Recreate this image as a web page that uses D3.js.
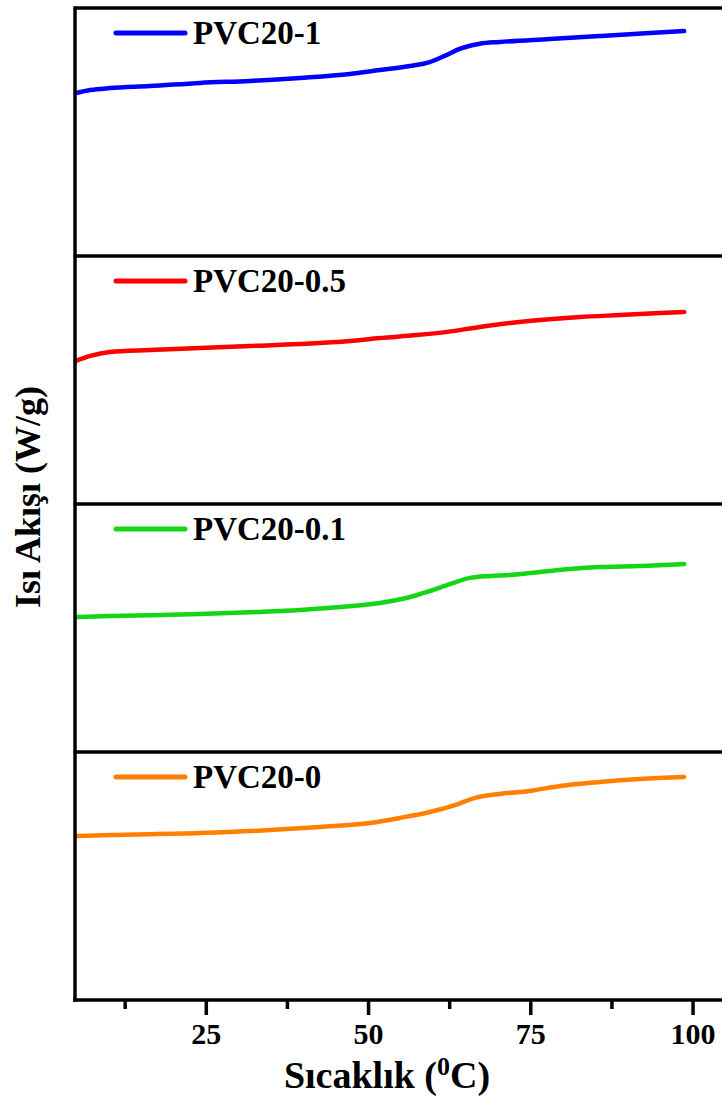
<!DOCTYPE html>
<html>
<head>
<meta charset="utf-8">
<script src="https://cdn.jsdelivr.net/npm/d3@7"></script>
<style>
  body { margin: 0; background: #fff; }
  svg { display: block; }
  text { font-family: "Liberation Serif", "Times New Roman", serif; font-weight: bold; }
</style>
</head>
<body>
<svg id="chart" width="722" height="1098"></svg>
<script>
// temperature (°C) shared by the sampled points of each curve
const series = ["PVC20-1", "PVC20-0.5", "PVC20-0.1", "PVC20-0"]
const colors = ["#0000ff", "#ff0000", "#14d614", "#ff8000"]

// heat flow, arbitrary offset units
const tBlue = [5, 7.2, 10.2, 16.4, 24.1, 31.8, 39.5, 47.2, 51.8, 56.5, 59.5, 61.9, 64.2, 65.7, 67.2, 70.3, 78, 85.7, 93.4, 98.7]
const vBlue = [6.57, 6.69, 6.77, 6.85, 6.98, 7.06, 7.18, 7.34, 7.5, 7.66, 7.82, 8.08, 8.36, 8.48, 8.56, 8.63, 8.75, 8.87, 8.99, 9.07]

const tRed = [5, 7.2, 10.2, 16.4, 24.1, 31.8, 39.5, 47.2, 51.8, 57.5, 62.2, 67.2, 71.9, 76.5, 82.7, 88.8, 95, 98.7]
const vRed = [5.77, 5.97, 6.13, 6.21, 6.29, 6.37, 6.45, 6.57, 6.69, 6.81, 6.94, 7.14, 7.3, 7.42, 7.54, 7.62, 7.7, 7.74]

const tGreen = [5, 10.2, 24.1, 33.4, 39.5, 45.7, 51.8, 56.5, 59.5, 62.6, 65.7, 68.8, 71.9, 76.5, 81.1, 85.7, 91.9, 98.7]
const vGreen = [5.44, 5.48, 5.56, 5.65, 5.73, 5.85, 6.01, 6.25, 6.49, 6.77, 7.02, 7.1, 7.14, 7.26, 7.38, 7.46, 7.5, 7.58]

const tOrange = [5, 10.2, 24.1, 34.9, 42.6, 50.3, 54.9, 59.5, 63.4, 66.5, 70.3, 74.95, 79.6, 85.7, 91.9, 98.7]
const vOrange = [6.61, 6.65, 6.73, 6.85, 6.98, 7.14, 7.34, 7.58, 7.86, 8.15, 8.31, 8.43, 8.63, 8.79, 8.91, 8.99]

const temps = [tBlue, tRed, tGreen, tOrange]
const values = [vBlue, vRed, vGreen, vOrange]

const majorTicks = [25, 50, 75, 100]
const minorTicks = [12.5, 37.5, 62.5, 87.5]

const svg = d3.select("#chart")
const plotLeft = 75, plotTop = 8, plotBottom = 1000

const x = d3.scaleLinear().domain([5, 105]).range([76, 725])
const band = d3.scaleBand().domain(series).range([plotTop, plotBottom])

// curves
series.forEach((name, i) => {
    const y = d3.scaleLinear().domain([0, 10]).range([band(name) + band.bandwidth(), band(name)])
    const pts = temps[i].map((t, j) => [t, values[i][j]])
    const line = d3.line().x(d => x(d[0])).y(d => y(d[1])).curve(d3.curveMonotoneX)

    svg.append("path")
        .datum(pts)
        .attr("d", line)
        .attr("fill", "none")
        .attr("stroke", colors[i])
        .attr("stroke-width", 4.5)
        .attr("stroke-linecap", "round")
        .attr("stroke-linejoin", "round")

    // legend
    const ly = band(name) + 25
    svg.append("line")
        .attr("x1", 116).attr("x2", 185)
        .attr("y1", ly).attr("y2", ly)
        .attr("stroke", colors[i])
        .attr("stroke-width", 5)
        .attr("stroke-linecap", "round")
    svg.append("text")
        .attr("x", 193).attr("y", ly)
        .attr("dominant-baseline", "central")
        .attr("font-size", 33)
        .text(name)
})

// panel separators
svg.append("g").selectAll("line")
    .data(series)
    .join("line")
    .attr("x1", plotLeft).attr("x2", 722)
    .attr("y1", d => band(d)).attr("y2", d => band(d))
    .attr("stroke", "#000")
    .attr("stroke-width", 3.5)

// left frame
svg.append("line")
    .attr("x1", plotLeft).attr("x2", plotLeft)
    .attr("y1", plotTop - 1.75).attr("y2", plotBottom + 1.75)
    .attr("stroke", "#000")
    .attr("stroke-width", 3.5)

// bottom axis
const gx = svg.append("g").attr("transform", `translate(0,${plotBottom})`)
gx.call(d3.axisBottom(x).tickValues(majorTicks).tickSize(15).tickPadding(8).tickFormat(d3.format("d")))
gx.append("g").call(d3.axisBottom(x).tickValues(minorTicks).tickSize(9).tickFormat(""))
gx.selectAll(".domain").remove()
gx.selectAll(".tick line").attr("stroke", "#000").attr("stroke-width", 3.5)
gx.selectAll(".tick text")
    .attr("font-size", 30)
    .attr("font-family", "Liberation Serif, serif")
    .attr("font-weight", "bold")
    .attr("fill", "#000")
svg.append("line")
    .attr("x1", plotLeft - 1.75).attr("x2", 722)
    .attr("y1", plotBottom).attr("y2", plotBottom)
    .attr("stroke", "#000")
    .attr("stroke-width", 3.5)

// axis titles
const xt = svg.append("text")
    .attr("x", 387).attr("y", 1088)
    .attr("text-anchor", "middle")
    .attr("font-size", 38)
xt.append("tspan").text("Sıcaklık (")
xt.append("tspan").attr("font-size", 26).attr("dy", -13).text("0")
xt.append("tspan").attr("dy", 13).text("C)")

svg.append("text")
    .attr("transform", "translate(40,497) rotate(-90)")
    .attr("text-anchor", "middle")
    .attr("font-size", 36)
    .text("Isı Akışı (W/g)")
</script>
</body>
</html>
